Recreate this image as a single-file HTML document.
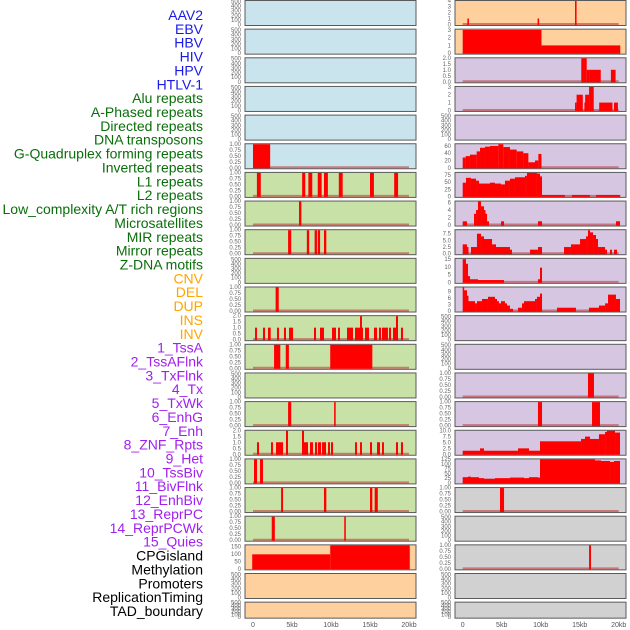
<!DOCTYPE html>
<html><head><meta charset="utf-8">
<style>
body{margin:0;background:#fff;width:630px;height:630px;overflow:hidden;font-family:"Liberation Sans",sans-serif}
svg{display:block}
</style></head>
<body>
<svg id="chart" width="630" height="630" xmlns="http://www.w3.org/2000/svg"></svg>
<script>
// ---------- data ----------
const labelNames = ["AAV2","EBV","HBV","HIV","HPV","HTLV-1","Alu repeats","A-Phased repeats","Directed repeats","DNA transposons","G-Quadruplex forming repeats","Inverted repeats","L1 repeats","L2 repeats","Low_complexity A/T rich regions","Microsatellites","MIR repeats","Mirror repeats","Z-DNA motifs","CNV","DEL","DUP","INS","INV","1_TssA","2_TssAFlnk","3_TxFlnk","4_Tx","5_TxWk","6_EnhG","7_Enh","8_ZNF_Rpts","9_Het","10_TssBiv","11_BivFlnk","12_EnhBiv","13_ReprPC","14_ReprPCWk","15_Quies","CPGisland","Methylation","Promoters","ReplicationTiming","TAD_boundary"];
const labelGroups = [0,0,0,0,0,0,1,1,1,1,1,1,1,1,1,1,1,1,1,2,2,2,2,2,3,3,3,3,3,3,3,3,3,3,3,3,3,3,3,4,4,4,4,4];
const xTicks = [0,5,10,15,20];
const xTickLabels = ["0","5kb","10kb","15kb","20kb"];

// segments: [startKb, endKb, value]
const midRow5 = [[0,2.2,1]];
const midRow6 = [[0.5,1.0,1],[6.3,6.7,1],[7.1,7.6,1],[8.3,8.8,1],[9.1,9.6,1],[11.0,11.5,1],[15.0,15.5,1],[18.1,18.6,1]];
const midRow7 = [[5.9,6.2,1]];
const midRow8 = [[4.5,4.9,1],[6.9,7.2,1],[7.9,8.2,1],[8.3,8.6,1],[9.1,9.4,1]];
const midRow10 = [[2.9,3.3,1]];
const midRow11 = [[0.26,0.51,1],[1.28,1.54,1],[1.92,2.27,1],[3.08,3.33,1],[3.97,4.23,1],[4.62,5.13,1],[7.82,8.08,1],[8.59,9.1,1],[10.13,10.64,1],[10.9,11.15,1],[12.05,12.82,1],[13.08,14.1,1],[13.72,13.97,2],[14.36,14.87,1],[15.51,15.9,1],[16.15,16.41,1],[16.54,17.3,1],[17.44,17.69,1],[17.95,18.59,1],[18.33,18.59,2],[18.97,19.23,1]];
const midRow12 = [[2.7,3.5,1],[4.2,4.6,1],[9.9,15.3,1]];
const midRow14 = [[4.5,4.9,1],[10.4,10.6,1]];
const midRow15 = [[0.51,0.77,1],[2.31,2.56,1],[2.95,3.85,1],[4.23,4.49,2],[6.28,6.54,2],[6.54,7.05,1],[7.31,7.69,1],[7.95,8.21,1],[8.33,8.72,1],[8.85,9.36,1],[9.62,9.87,1],[10.0,10.26,1],[13.08,13.33,1],[13.72,13.97,1],[15.0,15.26,1],[15.9,16.28,1],[16.54,16.79,1],[18.33,18.59,1],[18.97,19.23,1]];
const midRow16 = [[0.13,0.51,1],[0.9,1.28,1]];
const midRow17 = [[3.6,3.85,1],[9.1,9.4,1],[15.0,15.3,1],[15.6,16.0,1]];
const midRow18 = [[2.4,2.8,1],[11.7,11.9,1]];
const midRow19 = [[-0.1,9.9,98],[9.9,20.1,162]];

const rightRow0 = [[0.6,0.8,1],[9.6,9.8,1],[14.4,14.6,4]];
const rightRow1 = [[0,10.1,3],[10.1,20.2,1]];
const rightRow2 = [[15.2,15.9,2],[15.9,16.2,1],[16.2,17.7,1],[19.0,19.6,1]];
const rightRow3 = [[14.4,14.6,1],[14.6,15.4,2],[15.6,15.7,1],[15.7,16.2,2],[16.2,16.8,3],[17.5,19.2,1],[19.4,19.9,1]];
const rightRow5 = [[0,0.38,28],[0.38,0.93,32],[0.93,1.79,36],[1.79,2.22,45],[2.22,2.86,55],[2.86,3.5,58],[3.5,4.57,60],[4.57,5.21,65],[5.21,6.06,57],[6.06,6.92,50],[6.92,7.78,45],[7.78,8.42,40],[8.42,9.27,15],[9.27,9.7,20],[9.7,10.1,38]];
const rightRow6 = [[0,0.42,48],[0.42,1.06,65],[1.06,1.71,62],[1.71,2.09,55],[2.09,3.5,45],[3.5,4.14,48],[4.14,4.91,45],[4.91,5.42,42],[5.42,6.06,55],[6.06,6.7,62],[6.7,7.99,67],[7.99,8.24,72],[8.24,9.52,85],[9.52,9.91,80],[9.91,10.17,70],[10.17,13.1,5],[14.0,16.3,5],[17.1,20.2,5]];
const rightRow7 = [[0,0.55,1],[1.45,1.71,3],[1.71,1.96,4],[1.96,2.35,6.3],[2.35,2.73,5],[2.73,2.86,4],[2.86,3.12,3],[3.12,3.37,1],[4.91,5.3,1],[9.65,10.17,1],[19.65,20.17,1]];
const rightRow8 = [[0,0.55,3.5],[0.55,0.68,2.5],[1.06,1.83,2.5],[1.83,2.35,7.5],[2.35,2.73,6.5],[2.73,3.76,5.5],[3.76,4.27,3.5],[4.27,6.06,2.5],[6.06,6.32,1.5],[8.63,9.65,1.5],[9.65,10.17,2.5],[12.99,13.88,2.5],[13.88,15.04,3.5],[15.04,15.81,5.5],[15.81,16.06,6.5],[16.06,16.32,9],[16.32,16.71,8],[16.71,17.09,7],[17.09,17.35,5.5],[17.35,18.25,2.5],[18.25,18.5,1.5],[18.89,19.14,1.5],[19.4,19.78,1.5]];
const rightRow9 = [[0,0.42,15],[0.42,0.68,12],[0.68,0.94,4],[0.94,1.96,2],[1.96,5.3,1.5],[9.65,9.91,2],[9.91,10.17,9.5]];
const rightRow10 = [[0,0.17,11],[0.17,0.55,9.5],[0.55,0.68,7],[0.68,1.58,4.5],[1.58,1.83,3.5],[1.83,2.47,4.5],[2.47,3.24,5.5],[3.24,4.14,6.5],[4.14,4.4,5.5],[4.4,4.65,4.5],[4.65,4.91,3.5],[4.91,5.42,4.5],[5.42,5.68,3.5],[5.68,6.06,2.5],[6.06,6.45,1],[7.09,7.6,1.5],[7.6,7.86,3.5],[7.86,9.27,4.5],[9.27,9.52,5.5],[9.52,9.91,6.5],[9.91,10.17,8],[12.09,14.52,1.5],[16.19,17.47,1.5],[17.47,18.25,2.5],[18.25,18.63,3.5],[18.63,19.65,7.5],[19.65,20.17,5.5]];
const rightRow13 = [[16.06,16.83,1]];
const rightRow14 = [[9.65,10.17,1],[16.58,17.6,1]];
const rightRow15 = [[0,2.22,1.5],[2.22,2.73,2.5],[2.73,7.09,1.5],[7.09,8.5,2.5],[8.5,9.91,1.5],[9.91,15.17,5.5],[15.17,15.68,6.5],[15.68,16.32,7.5],[16.32,17.47,6.5],[17.47,18.25,8.5],[18.25,18.5,9.5],[18.5,19.53,10],[19.53,20.17,9.2]];
const rightRow16 = [[0,0.68,30],[0.68,1.06,33],[1.06,2.09,30],[2.09,2.73,25],[2.73,4.14,22],[4.14,6.06,25],[6.06,7.86,28],[7.86,8.5,25],[8.5,9.65,30],[9.65,9.91,28],[9.91,16.96,125],[16.96,17.73,118],[17.73,18.89,115],[18.89,19.4,110],[19.4,20.17,115]];
const rightRow17 = [[4.78,5.3,1]];
const rightRow19 = [[16.2,16.45,1]];

const ticksEmpty = [0,100,200,300,400,500];
const ticksUnit = [0,0.25,0.5,0.75,1];
const ticksTwo = [0,0.5,1,1.5,2];

// ---------- rendering ----------
const svg = document.getElementById('chart');
const NS = 'http://www.w3.org/2000/svg';
function mk(tag, attrs, parent){const e=document.createElementNS(NS,tag);for(const k in attrs)e.setAttribute(k,attrs[k]);(parent||svg).appendChild(e);return e;}

const groupColors = ["#1a1ae6","#0a6e0a","#ffa500","#a020f0","#000000"];
labelNames.forEach((t,i)=>{
  const el = mk('text',{x:203,y:15+i*13.86+5,'text-anchor':'end','font-size':'14',fill:groupColors[labelGroups[i]]});
  el.textContent = t;
  
  
});

const cols = [{x0:245,x1:416,zero:253},{x0:455,x1:626,zero:462.7}];
const kbPx = 7.8;
function rowTop(i){return 0.5+i*28.65;}
function rowH(i){return i===21?16:25;}

const colBg = [
  i => i<6?"#c9e4ec":(i<19?"#c8e1a6":"#fdd09d"),
  i => i<2?"#fdd09d":(i<17?"#d6c6e2":"#d1d1d1")
];
const panelDefs = [
  {col:0,row:5,data:midRow5,yMax:1,ticks:ticksUnit,dec:2},
  {col:0,row:6,data:midRow6,yMax:1,ticks:ticksUnit,dec:2},
  {col:0,row:7,data:midRow7,yMax:1,ticks:ticksUnit,dec:2},
  {col:0,row:8,data:midRow8,yMax:1,ticks:ticksUnit,dec:2},
  {col:0,row:10,data:midRow10,yMax:1,ticks:ticksUnit,dec:2},
  {col:0,row:11,data:midRow11,yMax:2,ticks:ticksTwo,dec:1},
  {col:0,row:12,data:midRow12,yMax:1,ticks:ticksUnit,dec:2},
  {col:0,row:14,data:midRow14,yMax:1,ticks:ticksUnit,dec:2},
  {col:0,row:15,data:midRow15,yMax:2,ticks:ticksTwo,dec:1},
  {col:0,row:16,data:midRow16,yMax:1,ticks:ticksUnit,dec:2},
  {col:0,row:17,data:midRow17,yMax:1,ticks:ticksUnit,dec:2},
  {col:0,row:18,data:midRow18,yMax:1,ticks:ticksUnit,dec:2},
  {col:0,row:19,data:midRow19,yMax:162,ticks:[0,50,100,150],dec:0,nobase:true},
  {col:1,row:0,data:rightRow0,yMax:4,ticks:[0,1,2,3,4],dec:0},
  {col:1,row:1,data:rightRow1,yMax:3.1,ticks:[0,1,2,3],dec:0},
  {col:1,row:2,data:rightRow2,yMax:2,ticks:ticksTwo,dec:1},
  {col:1,row:3,data:rightRow3,yMax:3.05,ticks:[0,1,2,3],dec:0},
  {col:1,row:5,data:rightRow5,yMax:66,ticks:[0,20,40,60],dec:0},
  {col:1,row:6,data:rightRow6,yMax:84,ticks:[0,25,50,75],dec:0},
  {col:1,row:7,data:rightRow7,yMax:6.4,ticks:[0,2,4,6],dec:0},
  {col:1,row:8,data:rightRow8,yMax:9,ticks:[0,2.5,5,7.5],dec:1},
  {col:1,row:9,data:rightRow9,yMax:15.5,ticks:[0,5,10,15],dec:0},
  {col:1,row:10,data:rightRow10,yMax:11,ticks:[0,3,6,9],dec:0},
  {col:1,row:13,data:rightRow13,yMax:1,ticks:ticksUnit,dec:2},
  {col:1,row:14,data:rightRow14,yMax:1,ticks:ticksUnit,dec:2},
  {col:1,row:15,data:rightRow15,yMax:10.2,ticks:[0,2.5,5,7.5,10],dec:1},
  {col:1,row:16,data:rightRow16,yMax:126,ticks:[0,25,50,75,100,125],dec:0},
  {col:1,row:17,data:rightRow17,yMax:1,ticks:ticksUnit,dec:2},
  {col:1,row:19,data:rightRow19,yMax:1,ticks:ticksUnit,dec:2}
];

for(let c=0;c<2;c++){
  for(let r=0;r<22;r++){
    const col = cols[c], top=rowTop(r), h=rowH(r);
    const def = panelDefs.find(p=>p.col===c&&p.row===r) || {data:[],yMax:520,ticks:ticksEmpty,dec:0,empty:true};
    const g = mk('g',{});
    
    
    const bg = mk('rect',{x:col.x0,y:top,width:col.x1-col.x0,height:h,fill:colBg[c](r),stroke:'#5a5a5a','stroke-width':1},g);
    
    
    const y0 = top+h-1, yTop = top;
    const ys = v => y0 - (v/def.yMax)*(y0-yTop);
    const xs = kb => col.zero + kb*kbPx;
    if(!def.empty && !def.nobase){
      const bl = mk('line',{x1:xs(0),x2:xs(20),y1:y0-0.5,y2:y0-0.5,stroke:'rgba(190,60,60,0.6)','stroke-width':2},g);
      
      
    }
    def.data.forEach(s=>{
      const x1=Math.max(col.x0+0.5,xs(s[0])), x2=Math.min(col.x1-0.5,xs(s[1]));
      const yy=Math.max(yTop+0.5,ys(s[2]));
      const b = mk('rect',{x:x1,y:yy,width:Math.max(1.5,x2-x1),height:y0-yy+0.5,fill:'#ff0000'},g);
      
      
    });
    def.ticks.forEach(t=>{
      const ty = ys(t);
      const lbl = mk('text',{x:col.x0-4,y:ty+2,'text-anchor':'end','font-size':'6',fill:'#666'},g);
      lbl.textContent = t.toFixed(def.dec);
      
      
    });
  }
  xTicks.forEach((t,i)=>{
    const tx = cols[c].zero + t*kbPx;
    const lbl = mk('text',{x:tx,y:627,'text-anchor':'middle','font-size':'7',fill:'#555'});
    lbl.textContent = xTickLabels[i];
    
    
  });
}
</script>
</body></html>
